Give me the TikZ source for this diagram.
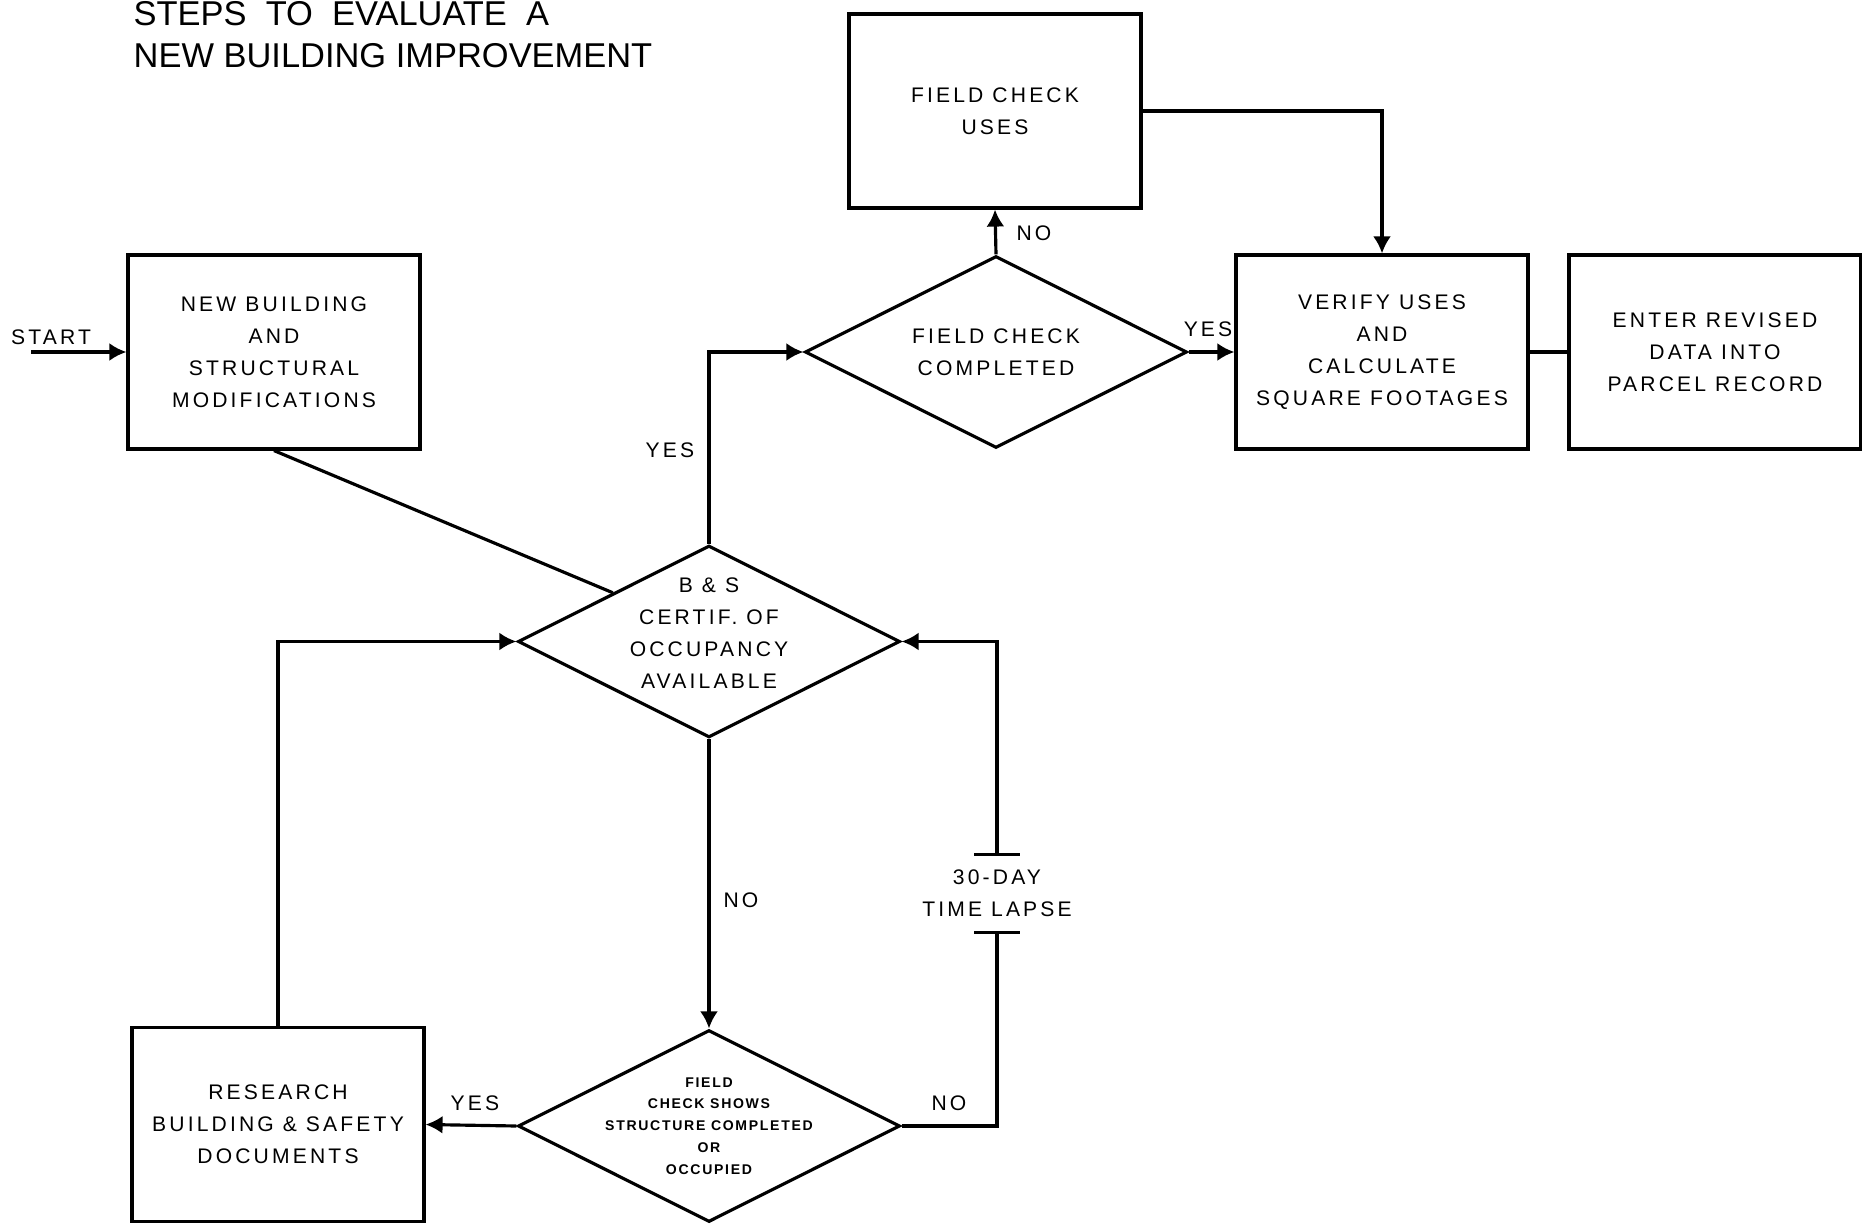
\documentclass[tikz,border=0pt]{standalone}
\usepackage{fontspec}
\setmainfont{Liberation Sans}
\newfontfamily\chartfont[LetterSpace=15]{Liberation Sans}
\newfontfamily\smallfont[LetterSpace=12]{Liberation Sans}
\usetikzlibrary{shapes.geometric,arrows.meta}

\tikzset{
  procbox/.style={draw, rectangle, line width=0.9pt, minimum width=2.92cm,
    minimum height=1.94cm, inner sep=0pt, align=center,
    font=\chartfont\fontsize{6}{9.1}\selectfont},
  decision/.style={draw, diamond, line width=0.9pt, minimum width=3.82cm,
    minimum height=1.92cm, aspect=2, inner sep=0pt},
  dtext/.style={align=center, inner sep=0pt,
    font=\chartfont\fontsize{6}{9.1}\selectfont},
  flow/.style={line width=0.9pt, -{Latex[length=1.7mm,width=1.8mm]}},
  line/.style={line width=0.9pt},
  lbl/.style={inner sep=0pt, align=center,
    font=\chartfont\fontsize{6}{9.1}\selectfont}
}

\begin{document}
\begin{tikzpicture}
  \useasboundingbox (0,0) rectangle (18.62,12.23);

  \node[anchor=west, align=left, inner sep=0pt,
    font=\fontsize{9.8}{12.0}\selectfont] (title) at (1.33,11.88)
    {STEPS\ \ TO\ \ EVALUATE\ \ A\\NEW BUILDING IMPROVEMENT};

  % boxes and decisions
  \node[procbox] (nb) at (2.74,8.71) {NEW BUILDING\\AND\\STRUCTURAL\\MODIFICATIONS};
  \node[procbox] (fcu) at (9.95,11.12) {FIELD CHECK\\USES};
  \node[decision, label={[dtext]center:{FIELD CHECK\\COMPLETED}}] (fcc) at (9.96,8.71) {};
  \node[procbox] (vu) at (13.82,8.71) {VERIFY USES\\AND\\CALCULATE\\SQUARE FOOTAGES};
  \node[procbox] (er) at (17.15,8.71) {ENTER REVISED\\DATA INTO\\PARCEL RECORD};
  \node[decision, label={[dtext, yshift=0.8mm]center:{B \& S\\CERTIF. OF\\OCCUPANCY\\AVAILABLE}}] (bs) at (7.09,5.815) {};
  \node[decision, label={[dtext, font=\smallfont\bfseries\fontsize{4}{6.2}\selectfont]center:{FIELD\\CHECK SHOWS\\STRUCTURE COMPLETED\\OR\\OCCUPIED}}] (fcs) at (7.09,0.97) {};
  \node[procbox] (rs) at (2.78,0.985) {RESEARCH\\BUILDING \& SAFETY\\DOCUMENTS};
  \node[lbl, minimum height=0.77cm] (lapse) at (9.97,3.295) {30-DAY\\TIME LAPSE};

  % start
  \coordinate (start) at (0.31,8.71);
  \node[lbl] (startlbl) at (0.51,8.86) {START};
  \draw[flow] (start) -- (nb.west);

  % connectors
  \draw[line] (nb.south) -- (bs.north west);
  \draw[flow] (bs.north) |- (fcc.west);
  \draw[flow] (fcc.north) -- (fcu.south);
  \draw[flow] (fcc.east) -- (vu.west);
  \draw[flow] (fcu.east) -| (vu.north);
  \draw[line] (vu.east) -- (er.west);
  \draw[flow] (bs.south) -- (fcs.north);
  \draw[flow] (fcs.west) -- (rs.east);
  \draw[flow] (rs.north) |- (bs.west);
  \draw[line] (fcs.east) -| (lapse.south);
  \draw[flow] (lapse.north) |- (bs.east);
  \draw[line] ([xshift=-2.3mm]lapse.south) -- ([xshift=2.3mm]lapse.south);
  \draw[line] ([xshift=-2.3mm]lapse.north) -- ([xshift=2.3mm]lapse.north);

  % branch labels
  \node[lbl] (yes1) at (6.70,7.73) {YES};
  \node[lbl] (no1) at (10.34,9.90) {NO};
  \node[lbl] (yes2) at (12.08,8.94) {YES};
  \node[lbl] (no2) at (7.41,3.23) {NO};
  \node[lbl] (yes3) at (4.75,1.20) {YES};
  \node[lbl] (no3) at (9.49,1.20) {NO};
\end{tikzpicture}
\end{document}
